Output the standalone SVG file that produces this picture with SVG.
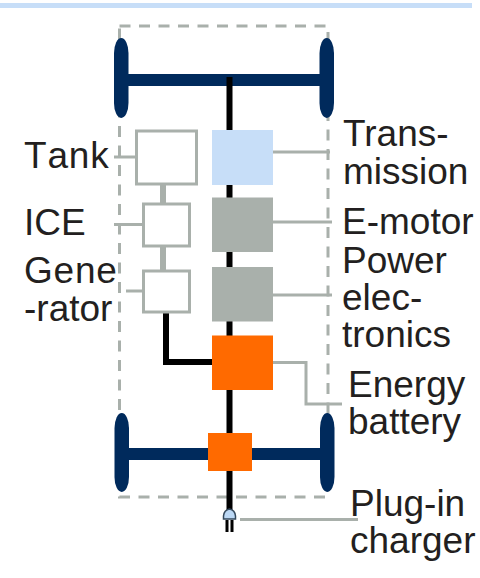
<svg xmlns="http://www.w3.org/2000/svg" width="480" height="578" viewBox="0 0 480 578">
<style>
text{font-family:"Liberation Sans",Arial,sans-serif;font-size:37px;fill:#231f20}
.loose{font-kerning:none;letter-spacing:.8px}
.lead{fill:none;stroke:#a9b0ab;stroke-width:3}
.dash{fill:none;stroke:#a9b0ab;stroke-width:3;stroke-dasharray:11 8.500}
.link{fill:none;stroke:#a9b0ab;stroke-width:6}
.shaft{fill:none;stroke:#000;stroke-width:6}
.axle{fill:none;stroke:#002a5c;stroke-width:12}
.wheel{fill:#002a5c}
.hollow{fill:#fff;stroke:#a9b0ab;stroke-width:3}
.grey{fill:#a9b0ab}
.orange{fill:#ff6a00}
</style>
<rect width="472" height="5" x="0" y="3" fill="#c7def8"/>
<g id="frame"><rect class="dash" x="119.500" y="26" width="208.500" height="471"/></g>
<g id="connectors">
<path class="axle" d="M122 80H327"/>
<path class="axle" d="M122 454H327"/>
<path class="shaft" d="M229.500 77V510"/>
<path class="shaft" d="M166 312V362H212"/>
<path class="link" d="M163 184V204"/>
<path class="link" d="M163 246V271"/>
<path class="lead" d="M114 157H136"/>
<path class="lead" d="M114 224.500H143"/>
<path class="lead" d="M126 291H143"/>
<path class="lead" d="M273 152H330"/>
<path class="lead" d="M273 222H332"/>
<path class="lead" d="M273 295H332"/>
<path class="lead" d="M273 362.500H306V404H342"/>
<path class="lead" d="M240 519.500H358"/>
</g>
<g id="front-wheel-left"><rect class="wheel" x="114" y="38" width="14.500" height="80" rx="7.250" ry="15"/></g>
<g id="front-wheel-right"><rect class="wheel" x="319.500" y="38" width="14.500" height="80" rx="7.250" ry="15"/></g>
<g id="rear-wheel-left"><rect class="wheel" x="114.500" y="413" width="14.500" height="79" rx="7.250" ry="15"/></g>
<g id="rear-wheel-right"><rect class="wheel" x="320" y="413" width="14.500" height="79" rx="7.250" ry="15"/></g>
<g id="tank"><rect class="hollow" x="136.500" y="131" width="60" height="53"/><text class="loose" x="24" y="168">Tank</text></g>
<g id="ice"><rect class="hollow" x="143.500" y="204" width="46" height="42"/><text x="24" y="235">ICE</text></g>
<g id="generator"><rect class="hollow" x="143.500" y="271" width="46" height="41"/><text class="loose" x="24" y="283">Gene</text><text x="24" y="321">-rator</text></g>
<g id="transmission"><rect x="212" y="130" width="61" height="55" fill="#c7def8"/><text x="343" y="146">Trans-</text><text x="343" y="184">mission</text></g>
<g id="e-motor"><rect class="grey" x="212" y="197.500" width="61" height="54.500"/><text x="342" y="234">E-motor</text></g>
<g id="power-electronics"><rect class="grey" x="212" y="267" width="61" height="54.500"/><text x="342" y="273">Power</text><text x="342" y="310">elec-</text><text x="342" y="347">tronics</text></g>
<g id="energy-battery"><rect class="orange" x="212" y="335.500" width="61" height="54.500"/><text x="348" y="397">Energy</text><text x="348" y="434">battery</text></g>
<g id="rear-drive"><rect class="orange" x="208" y="433" width="44" height="38"/></g>
<g id="plug-in-charger">
<path d="M223.500 519V516Q224 510 229.500 509Q235 510 235.500 516V519Z" fill="#bcd8f5" stroke="#33475b" stroke-width="1.500"/>
<path d="M227 520V532M232 520V532" fill="none" stroke="#000" stroke-width="3"/>
<text x="350" y="516">Plug-in</text><text x="350" y="553">charger</text>
</g>
</svg>
